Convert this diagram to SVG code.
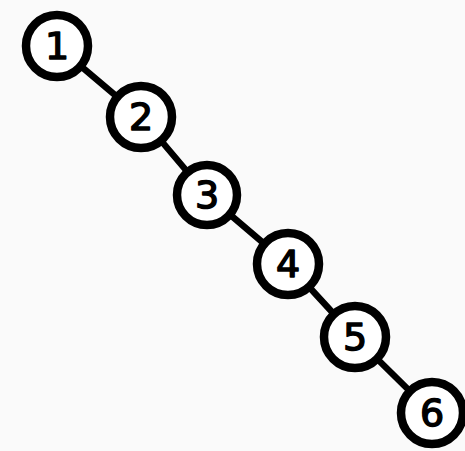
<svg xmlns="http://www.w3.org/2000/svg" width="465" height="451" viewBox="0 0 465 451">
<style>
.bg{fill:#fafafa}
.n circle{fill:#ffffff;stroke:#000;stroke-width:8.5}
.n text{font-family:"DejaVu Sans","Liberation Sans",sans-serif;font-size:38px;font-weight:normal;fill:#000;stroke:#000;stroke-width:1.5;stroke-linejoin:round;text-anchor:middle;dominant-baseline:central}
.e line{stroke:#000;stroke-width:6.5;stroke-linecap:round}
</style>
<rect class="bg" x="0" y="0" width="465" height="451"/>
<g id="connectors" class="e">
<line x1="57" y1="46" x2="141" y2="117"/>
<line x1="141" y1="117" x2="207" y2="195"/>
<line x1="207" y1="195" x2="288" y2="264"/>
<line x1="288" y1="264" x2="355" y2="337"/>
<line x1="355" y1="337" x2="432" y2="413"/>
</g>
<g id="node1" class="n"><circle cx="57" cy="46" r="31"/><text x="57" y="46">1</text></g>
<g id="node2" class="n"><circle cx="141" cy="117" r="31"/><text x="141" y="117">2</text></g>
<g id="node3" class="n"><circle cx="207" cy="195" r="30"/><text x="207" y="195">3</text></g>
<g id="node4" class="n"><circle cx="288" cy="264" r="31"/><text x="288" y="264">4</text></g>
<g id="node5" class="n"><circle cx="355" cy="337" r="31"/><text x="355" y="337">5</text></g>
<g id="node6" class="n"><circle cx="432" cy="413" r="31"/><text x="432" y="413">6</text></g>
</svg>
